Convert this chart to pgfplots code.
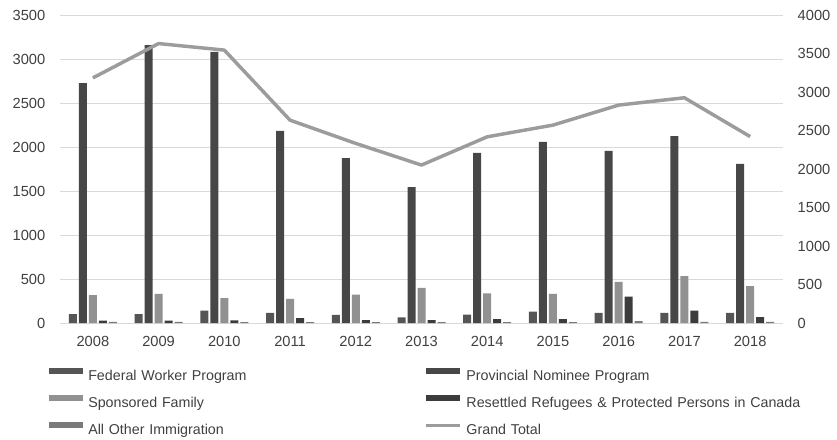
\documentclass[border=0pt]{standalone}
\usepackage{pgfplots}
\pgfplotsset{compat=1.18}
\usepackage{fontspec}
\setmainfont{Liberation Sans}
\definecolor{fw}{HTML}{555555}
\definecolor{pn}{HTML}{474747}
\definecolor{sf}{HTML}{919191}
\definecolor{rr}{HTML}{3C3C3C}
\definecolor{ao}{HTML}{7A7A7A}
\definecolor{gt}{HTML}{9C9C9C}
\definecolor{txt}{HTML}{404040}
\definecolor{grd}{HTML}{D9D9D9}
\begin{document}
\begin{tikzpicture}
\pgfplotsset{
  base/.style={
    at={(45pt,87pt)}, anchor=south west,
    width=542.25pt, height=231pt, scale only axis,
    xmin=-0.5, xmax=10.5,
    major tick length=0pt,
    /pgf/number format/assume math mode=true,
    /pgf/number format/1000 sep={},
    tick label style={font=\fontsize{11}{13}\selectfont, text=txt},
  }
}
\begin{axis}[base,
  ymin=0, ymax=3500, ytick={0,500,...,3500},
  xtick={0,...,10},
  xticklabels={2008,2009,2010,2011,2012,2013,2014,2015,2016,2017,2018},
  axis x line*=bottom, axis y line*=left,
  x axis line style={draw=grd, line width=0.75pt, -},
  y axis line style={draw=none},
  ymajorgrids, grid style={draw=grd, line width=0.75pt},
  yticklabel style={xshift=-7.5pt},
  xticklabel style={yshift=-6.7pt},
  ybar=1.5pt, bar width=6pt,
  legend columns=2,
  legend cell align=left,
  legend style={at={(-0.0152,-0.128)}, anchor=north west, draw=none, fill=none,
    inner sep=0pt, row sep=0pt,
    nodes={font=\fontsize{10.7}{12}\selectfont, text=txt, inner sep=0pt,
      minimum height=20.25pt, text width=252pt, align=left},
    /tikz/every odd column/.style={column sep=3.75pt}},
  legend image code/.code={\fill[#1] (0pt,1.5pt) rectangle (25.5pt,6pt);},
]
\addplot[draw=none, fill=fw] coordinates {(0,100)(1,100)(2,140)(3,114)(4,91)(5,64)(6,94)(7,128)(8,114)(9,114)(10,114)};
\addlegendentry{Federal Worker Program}
\addplot[draw=none, fill=pn] coordinates {(0,2727)(1,3159)(2,3080)(3,2182)(4,1875)(5,1545)(6,1932)(7,2057)(8,1955)(9,2125)(10,1807)};
\addlegendentry{Provincial Nominee Program}
\addplot[draw=none, fill=sf] coordinates {(0,318)(1,330)(2,284)(3,273)(4,322)(5,398)(6,337)(7,330)(8,466)(9,534)(10,420)};
\addlegendentry{Sponsored Family}
\addplot[draw=none, fill=rr] coordinates {(0,26)(1,28)(2,30)(3,55)(4,34)(5,34)(6,45)(7,45)(8,299)(9,140)(10,68)};
\addlegendentry{Resettled Refugees \& Protected Persons in Canada}
\addplot[draw=none, fill=ao] coordinates {(0,12)(1,12)(2,10)(3,10)(4,10)(5,10)(6,10)(7,10)(8,20)(9,12)(10,12)};
\addlegendentry{All Other Immigration}
\addlegendimage{legend image code/.code={\draw[gt, line width=2.4pt] (0pt,3.75pt) -- (25.5pt,3.75pt);}}
\addlegendentry{Grand Total}
\end{axis}
\begin{axis}[base,
  ymin=0, ymax=4000, ytick={0,500,...,4000},
  axis x line=none, axis y line*=right,
  y axis line style={draw=none},
  yticklabel style={xshift=7.5pt},
]
\addplot[gt, line width=2.6pt, line join=round] coordinates {(0,3183)(1,3629)(2,3544)(3,2634)(4,2332)(5,2051)(6,2418)(7,2570)(8,2830)(9,2925)(10,2421)};
\end{axis}
\pgfresetboundingbox
\path[use as bounding box] (0,0) rectangle (627.75pt,329.25pt);
\end{tikzpicture}
\end{document}
